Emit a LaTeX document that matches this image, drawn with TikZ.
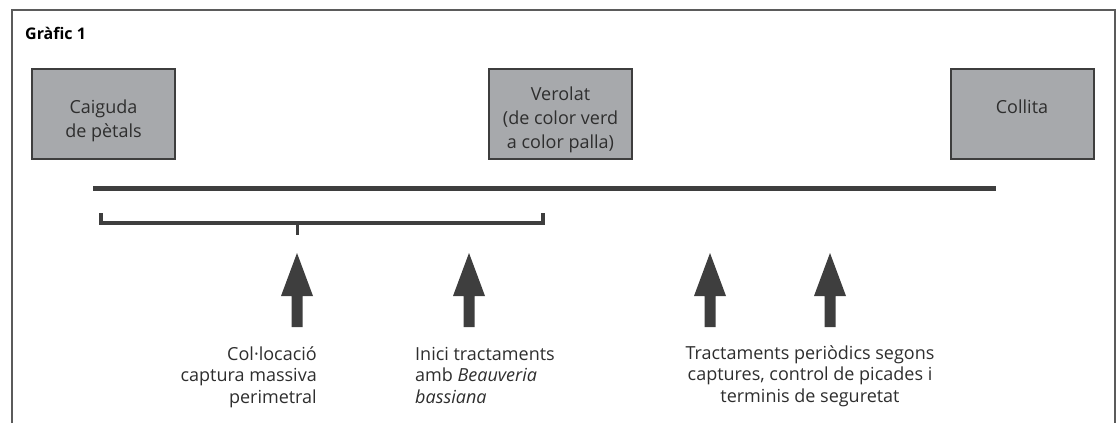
\documentclass[tikz,border=0pt]{standalone}
\usepackage{fontspec}
\setmainfont{Open Sans}
\definecolor{boxgray}{HTML}{A7A9AC}
\definecolor{ink}{HTML}{3E3E3E}
\definecolor{txt}{HTML}{2E2E2E}
\tikzset{
  stage/.style={draw=ink, fill=boxgray, line width=2pt, minimum width=143pt, minimum height=90pt, inner sep=0pt},
  stagetext/.style={align=center, inner sep=0pt, anchor=base, text=txt, font=\fontsize{18}{24}\selectfont},
  note/.style={inner sep=0pt, text=txt, font=\fontsize{18}{21.5}\selectfont},
}
\begin{document}
\begin{tikzpicture}[x=1pt,y=-1pt]
\useasboundingbox (0,0) rectangle (1118,423);
\draw[ink!85, line width=2pt] (12,423) |- (1115,10) -- (1115,423);
\node[anchor=base west, inner sep=0pt, text=black, font=\bfseries\fontsize{16}{18}\selectfont] (title) at (25,39) {Gràfic 1};
\node[stage] (caiguda) at (103.5,114) {};
\node[stage] (verolat) at (560.5,114) {};
\node[stage] (collita) at (1022,114) {};
\node[stagetext] (caigudat) at (103.5,137) {Caiguda\\de pètals};
\node[stagetext] (verolatt) at (560.5,148) {Verolat\\(de color verd\\a color palla)};
\node[stagetext] (collitat) at (1022,113) {Collita};
\draw[ink, line width=5pt] (93,188) -- (996,188);
\draw[ink, line width=3.5pt] (101,213) -- (101,223) -- (543,223) -- (543,213);
\draw[ink, line width=3pt] (297,223) -- (297,235);
\foreach \x in {297,469,710,830}
  \fill[ink] (\x-5.5,327) -- (\x-5.5,296) -- (\x-16,296) -- (\x,253) -- (\x+16,296) -- (\x+5.5,296) -- (\x+5.5,327) -- cycle;
\node[note, align=right, anchor=base east] (coloc) at (317,403) {Col·locació\\captura massiva\\perimetral};
\node[note, align=left, anchor=base west] (inici) at (415,403) {Inici tractaments\\amb \textit{Beauveria}\\\textit{bassiana}};
\node[note, align=center, anchor=base] (period) at (810,402) {Tractaments periòdics segons\\captures, control de picades i\\terminis de seguretat};
\end{tikzpicture}
\end{document}
